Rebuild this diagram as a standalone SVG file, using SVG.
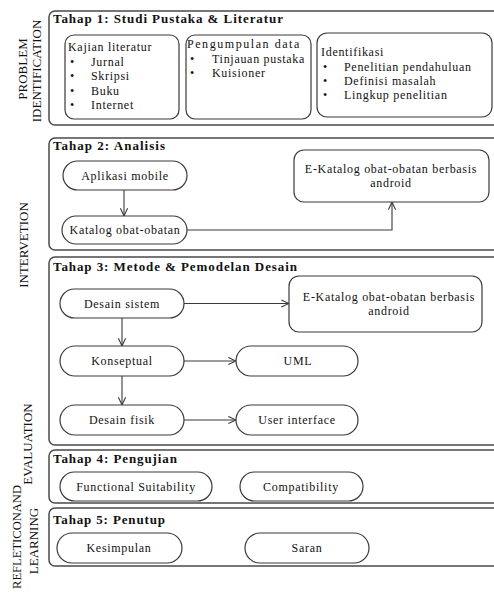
<svg xmlns="http://www.w3.org/2000/svg" width="494" height="592" viewBox="0 0 494 592">
<style>
text{font-family:"Liberation Serif","Times New Roman",serif;fill:#111}
.t{font-size:12px;letter-spacing:0.7px}
.c{font-size:12px;letter-spacing:0.7px;text-anchor:middle}
.h{font-size:13px;font-weight:bold}
.v{font-size:13px;text-anchor:middle}
.stage{fill:none;stroke:#4a4a4a;stroke-width:1.5}
.box{fill:#fff;stroke:#3a3a3a;stroke-width:1.2}
.pill{fill:#fff;stroke:#3a3a3a;stroke-width:1.2}
.ln{fill:none;stroke:#3a3a3a;stroke-width:1.1}
</style>
<defs>
<marker id="arr" viewBox="0 0 10 10" refX="9.5" refY="5" markerWidth="9" markerHeight="9" markerUnits="userSpaceOnUse" orient="auto">
<path d="M1,1 L9.5,5 L1,9" fill="none" stroke="#3a3a3a" stroke-width="1.2"/>
</marker>
</defs>
<rect width="494" height="592" fill="#fff"/>

<g id="labels">
<text class="v" transform="translate(27,69) rotate(-90)">PROBLEM</text>
<text class="v" transform="translate(41,71) rotate(-90)">IDENTIFICATION</text>
<text class="v" transform="translate(28,245) rotate(-90)">INTERVETION</text>
<text class="v" transform="translate(32,444) rotate(-90)">EVALUATION</text>
<text class="v" transform="translate(21,537) rotate(-90)" textLength="104" lengthAdjust="spacingAndGlyphs">REFLETICONAND</text>
<text class="v" transform="translate(38,541) rotate(-90)">LEARNING</text>
</g>

<g id="tahap1">
<rect class="stage" x="49" y="11" width="460" height="114" rx="6"/>
<text class="h" x="53" y="23" textLength="230" lengthAdjust="spacing">Tahap 1: Studi Pustaka &amp; Literatur</text>
<g id="kajian">
<rect class="box" x="65" y="35" width="114" height="84" rx="9"/>
<text class="t" x="68" y="51">Kajian literatur</text>
<text class="t" x="70" y="66">•</text><text class="t" x="91" y="66">Jurnal</text>
<text class="t" x="70" y="80">•</text><text class="t" x="91" y="80">Skripsi</text>
<text class="t" x="70" y="95">•</text><text class="t" x="91" y="95">Buku</text>
<text class="t" x="70" y="109">•</text><text class="t" x="91" y="109">Internet</text>
</g>
<g id="pengumpulan">
<rect class="box" x="186" y="35" width="125" height="84" rx="9"/>
<text class="t" x="187" y="48" textLength="113" lengthAdjust="spacing">Pengumpulan data</text>
<text class="t" x="190" y="63">•</text><text class="t" x="212" y="63">Tinjauan pustaka</text>
<text class="t" x="190" y="77">•</text><text class="t" x="212" y="77">Kuisioner</text>
</g>
<g id="identifikasi">
<rect class="box" x="317" y="33" width="175" height="84" rx="10"/>
<text class="t" x="321" y="56">Identifikasi</text>
<text class="t" x="323" y="71">•</text><text class="t" x="344" y="71">Penelitian pendahuluan</text>
<text class="t" x="323" y="85">•</text><text class="t" x="344" y="85">Definisi masalah</text>
<text class="t" x="323" y="99">•</text><text class="t" x="344" y="99">Lingkup penelitian</text>
</g>
</g>

<g id="tahap2">
<rect class="stage" x="49" y="138" width="460" height="112" rx="6"/>
<text class="h" x="53" y="150" textLength="112" lengthAdjust="spacing">Tahap 2: Analisis</text>
</g>
<g id="aplikasi-mobile">
<rect class="pill" x="63" y="161" width="124" height="29" rx="14.5"/>
<text class="c" x="125" y="180">Aplikasi mobile</text>
</g>
<g id="katalog">
<rect class="pill" x="62" y="216" width="125" height="28" rx="14"/>
<text class="c" x="125" y="234">Katalog obat-obatan</text>
</g>
<g id="ekatalog1">
<rect class="box" x="294" y="150" width="195" height="52" rx="10"/>
<text class="c" x="391" y="173">E-Katalog obat-obatan berbasis</text>
<text class="c" x="391" y="187">android</text>
</g>

<g id="tahap3">
<rect class="stage" x="49" y="257" width="460" height="188" rx="6"/>
<text class="h" x="53" y="271" textLength="244" lengthAdjust="spacing">Tahap 3: Metode &amp; Pemodelan Desain</text>
</g>
<g id="desain-sistem">
<rect class="pill" x="60" y="289" width="124" height="29" rx="14.5"/>
<text class="c" x="122" y="308">Desain sistem</text>
</g>
<g id="ekatalog2">
<rect class="box" x="289" y="276" width="193" height="56" rx="10"/>
<text class="c" x="389" y="301">E-Katalog obat-obatan berbasis</text>
<text class="c" x="389" y="315">android</text>
</g>
<g id="konseptual">
<rect class="pill" x="60" y="346" width="124" height="30" rx="15"/>
<text class="c" x="122" y="365">Konseptual</text>
</g>
<g id="uml">
<rect class="pill" x="236" y="346" width="122" height="30" rx="15"/>
<text class="c" x="298" y="365">UML</text>
</g>
<g id="desain-fisik">
<rect class="pill" x="60" y="405" width="124" height="30" rx="15"/>
<text class="c" x="122" y="424">Desain fisik</text>
</g>
<g id="user-interface">
<rect class="pill" x="236" y="405" width="122" height="30" rx="15"/>
<text class="c" x="297" y="424">User interface</text>
</g>

<g id="tahap4">
<rect class="stage" x="49" y="450" width="460" height="53" rx="6"/>
<text class="h" x="53" y="463" textLength="124" lengthAdjust="spacing">Tahap 4: Pengujian</text>
</g>
<g id="functional">
<rect class="pill" x="60" y="472" width="152" height="29" rx="14.5"/>
<text class="c" x="136" y="491">Functional Suitability</text>
</g>
<g id="compatibility">
<rect class="pill" x="240" y="472" width="123" height="29" rx="14.5"/>
<text class="c" x="301" y="491">Compatibility</text>
</g>

<g id="tahap5">
<rect class="stage" x="49" y="508" width="460" height="58" rx="6"/>
<text class="h" x="53" y="524" textLength="112" lengthAdjust="spacing">Tahap 5: Penutup</text>
</g>
<g id="kesimpulan">
<rect class="pill" x="57" y="533" width="125" height="30" rx="15"/>
<text class="c" x="119" y="552">Kesimpulan</text>
</g>
<g id="saran">
<rect class="pill" x="245" y="533" width="124" height="30" rx="15"/>
<text class="c" x="307" y="552">Saran</text>
</g>

<g id="connectors">
<path class="ln" d="M124,190 L124,216" marker-end="url(#arr)"/>
<path class="ln" d="M187,230 L392,230 L392,202" marker-end="url(#arr)"/>
<path class="ln" d="M184,303.5 L289,303.5" marker-end="url(#arr)"/>
<path class="ln" d="M122,318 L122,346" marker-end="url(#arr)"/>
<path class="ln" d="M184,361 L236,361" marker-end="url(#arr)"/>
<path class="ln" d="M122,376 L122,405" marker-end="url(#arr)"/>
<path class="ln" d="M184,420 L236,420" marker-end="url(#arr)"/>
</g>
</svg>
